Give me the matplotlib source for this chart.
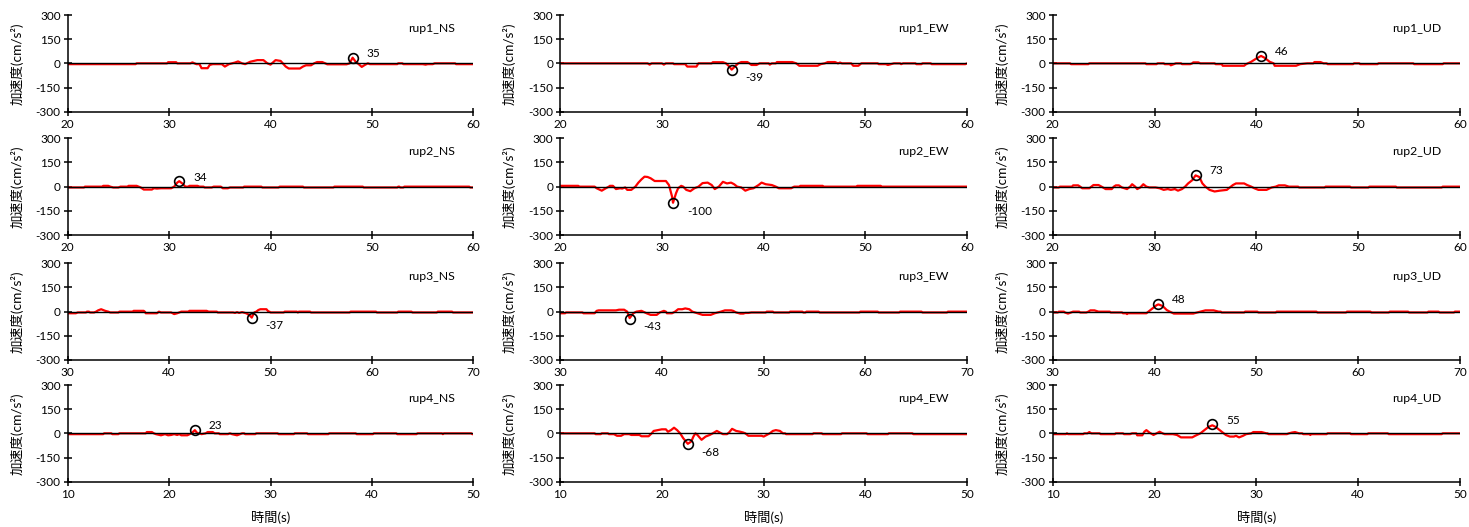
import matplotlib
matplotlib.use('Agg')
import matplotlib.pyplot as plt

plt.rcParams['font.family'] = ['Lato', 'Noto Sans CJK JP', 'DejaVu Sans']
plt.rcParams['axes.unicode_minus'] = False

# ---------------- data (time s, acceleration cm/s^2) ----------------
rup1_NS = [(20,-5),(26.7,-5),(26.8,0),(29.8,0),(29.9,7),(30.7,7),(30.8,0),(32.1,0),(32.3,6),(32.5,0),(32.7,-5),(33.0,-5),
           (33.2,-30),(33.8,-30),(34.0,-10),(34.3,-5),(35.2,-5),(35.5,-20),(35.9,-5),(36.5,5),(36.8,12),(37.2,0),(37.5,-5),
           (38.0,10),(38.7,20),(39.3,20),(39.7,0),(40.0,-8),(40.5,20),(41.0,15),(41.5,-20),(41.8,-32),(42.9,-32),(43.2,-20),
           (43.5,-12),(44.0,-12),(44.3,0),(44.6,8),(45.1,8),(45.4,0),(45.6,-6),(47.5,-6),(47.8,0),(48.1,35),(48.4,10),
           (48.7,-5),(49.0,-22),(49.3,-10),(49.6,0),(49.8,-5),(52.5,-5),(52.6,0),(53.0,0),(53.1,-5),(55.0,-5),(55.3,-8),
           (55.5,-5),(56.0,-5),(56.2,0),(58.2,0),(58.3,-5),(60,-5)]
rup1_EW = [(20,0),(28.6,0),(28.8,-8),(29.0,0),(30.0,0),(30.2,-8),(30.4,0),(31.1,0),(31.2,-5),(32.3,-5),(32.5,-20),(33.4,-20),
           (33.6,0),(34.9,0),(35.0,7),(36.0,7),(36.3,0),(36.6,-18),(36.86,-39),(37.2,-18),(37.5,0),(37.8,8),(38.4,8),(38.6,0),
           (38.8,-10),(39.3,-10),(39.6,0),(40.5,0),(40.6,-8),(40.8,0),(41.2,0),(41.3,8),(42.8,8),(43.2,0),(43.5,-15),(45.3,-15),
           (45.6,-5),(46.0,0),(46.3,8),(47.0,8),(47.3,0),(47.5,5),(47.7,0),(48.6,0),(48.8,-15),(49.3,-15),(49.6,0),(51.2,0),
           (51.3,-5),(52.0,-5),(52.2,-10),(52.5,-5),(52.8,0),(53.4,0),(53.5,-5),(53.7,0),(54.9,0),(55.0,-5),(55.5,-5),(55.6,0),
           (56.4,0),(56.5,-5),(59.8,-5),(60,0)]
rup1_UD = [(20,0),(21.7,0),(21.8,-5),(23.5,-5),(23.6,0),(29.1,0),(29.2,-5),(30.2,-5),(30.3,0),(30.9,0),(31.0,-5),(31.5,-5),
           (31.6,-12),(31.9,-5),(32.1,0),(32.6,0),(32.7,-5),(33.5,-5),(33.7,0),(33.8,6),(34.3,6),(34.5,0),(35.9,0),(36.0,-5),
           (36.6,-5),(36.7,-15),(38.8,-15),(39.0,-5),(39.5,10),(40.0,30),(40.46,46),(40.8,35),(41.3,10),(41.7,0),(41.8,-15),
           (43.9,-15),(44.3,-5),(45.0,0),(45.6,0),(45.7,8),(46.3,8),(46.6,0),(46.9,0),(47.0,-5),(49.5,-5),(49.6,0),(50.1,0),
           (50.2,-5),(51.9,-5),(52.0,0),(55.4,0),(55.5,-5),(58.3,-5),(58.4,0),(60,0)]
rup2_NS = [(20,-5),(21.6,-5),(21.7,0),(23.4,0),(23.5,5),(24.0,5),(24.2,0),(24.5,-5),(25.0,-5),(25.2,0),(25.9,0),(26.0,5),
           (26.8,5),(27.0,0),(27.2,-5),(27.5,-18),(28.3,-18),(28.5,-10),(28.8,-12),(29.2,-10),(30.2,-10),(30.5,0),(30.8,25),
           (31.0,34),(31.3,20),(31.6,0),(31.9,0),(32.0,5),(32.8,5),(33.0,0),(33.4,0),(33.5,-5),(34.2,-5),(34.4,0),(35.1,0),
           (35.3,-10),(35.8,-10),(36.0,-5),(37.3,-5),(37.4,0),(39.1,0),(39.2,-5),(40.8,-5),(40.9,0),(43.2,0),(43.3,-5),
           (46.2,-5),(46.3,0),(49.1,0),(49.2,-5),(52.5,-5),(52.6,0),(52.7,0),(52.8,-5),(53.1,-5),(53.2,0),(59.6,0),(59.7,-5),
           (60,-5)]
rup2_EW = [(20,5),(21.8,5),(21.9,0),(23.4,0),(23.6,-10),(24.1,-25),(24.5,-10),(24.8,0),(24.9,5),(25.2,5),(25.5,-15),
           (25.9,-10),(26.1,-12),(26.4,-5),(26.6,-20),(27.0,-20),(27.4,0),(27.7,25),(28.0,45),(28.3,62),(28.6,60),(28.9,52),
           (29.3,35),(29.8,35),(30.4,35),(30.7,10),(31.0,-60),(31.1,-100),(31.4,-40),(31.6,-10),(31.9,5),(32.1,0),(32.4,-20),
           (32.8,-28),(33.2,-10),(33.6,0),(34.0,22),(34.5,25),(34.9,10),(35.2,-15),(35.6,0),(36.0,30),(36.4,20),(36.8,25),
           (37.1,15),(37.4,0),(37.8,-5),(38.2,-25),(38.6,-15),(39.0,-10),(39.5,10),(39.8,25),(40.2,15),(40.8,10),(41.2,0),
           (41.5,-10),(42.7,-10),(43.0,0),(43.5,0),(43.6,5),(45.8,5),(45.9,0),(49.1,0),(49.2,5),(51.5,5),(51.6,0),(60,0)]
rup2_UD = [(20,-5),(20.6,-5),(20.7,0),(21.9,0),(22.0,8),(22.5,8),(22.7,0),(22.9,-10),(23.6,-10),(23.8,0),(24.0,10),
           (24.5,10),(24.8,0),(25.2,-15),(25.8,-15),(26.0,0),(26.2,8),(26.5,8),(26.8,-5),(27.3,-15),(27.6,0),(27.8,15),
           (28.1,0),(28.3,-15),(28.6,-5),(28.9,15),(29.2,0),(29.5,-5),(30.1,-5),(30.5,-10),(30.9,-20),(31.3,-15),(31.6,-20),
           (32.0,-15),(32.3,-25),(32.7,-15),(33.0,0),(33.3,20),(33.7,40),(34.03,70),(34.4,60),(34.7,20),(35.0,0),(35.4,-20),
           (35.9,-30),(36.4,-25),(37.1,-20),(37.4,-5),(37.7,10),(38.0,20),(38.8,20),(39.1,10),(39.5,0),(39.8,-10),(40.2,-20),
           (41.0,-20),(41.5,-5),(41.9,0),(42.2,8),(42.8,8),(43.2,0),(44.1,0),(44.2,-5),(46.7,-5),(46.8,0),(49.2,0),(49.3,-5),
           (51.0,-5),(51.1,0),(53.7,0),(53.8,-5),(58.2,-5),(58.3,0),(60,0)]
rup3_NS = [(30,-10),(30.8,-10),(31.0,-5),(31.8,-5),(31.9,0),(32.1,0),(32.2,-5),(32.6,-5),(32.8,0),(33.0,8),(33.3,15),
           (33.7,5),(34.0,0),(34.2,-5),(35.0,-5),(35.1,0),(36.4,0),(36.5,5),(37.5,5),(37.6,0),(37.7,-10),(38.8,-10),(39.0,0),
           (39.2,-5),(40.2,-5),(40.5,-15),(40.8,-10),(41.0,-5),(41.2,0),(41.9,0),(42.0,5),(43.7,5),(43.9,0),(44.7,0),(44.8,-5),
           (46.3,-5),(46.5,-8),(46.7,-3),(46.9,-8),(47.2,-3),(47.6,-10),(47.9,-20),(48.15,-37),(48.4,-5),(48.6,0),(48.8,10),
           (49.0,15),(49.6,15),(49.8,0),(49.9,0),(50.0,-5),(51.3,-5),(51.4,0),(52.6,0),(52.7,-5),(52.8,0),(53.9,0),(54.0,-5),
           (57.8,-5),(57.9,0),(60.4,0),(60.5,-5),(62.5,-5),(62.6,0),(63.9,0),(64.0,-5),(66.4,-5),(66.5,0),(67.9,0),(68.0,-5),
           (70,-5)]
rup3_EW = [(30,-10),(30.5,-10),(30.6,-5),(32.2,-5),(32.3,-10),(33.4,-10),(33.6,5),(33.8,8),(35.5,8),(35.8,12),(36.3,12),
           (36.6,0),(36.84,-40),(37.2,-10),(37.5,0),(38.0,5),(38.5,-10),(38.9,-20),(39.5,-20),(39.8,-5),(40.2,5),(40.4,0),
           (40.5,-10),(41.0,-10),(41.3,0),(41.6,15),(42.0,15),(42.3,20),(42.7,15),(43.0,0),(43.5,-10),(44.0,-20),(44.8,-20),
           (45.2,-10),(45.5,-5),(45.8,0),(46.2,8),(46.8,8),(47.0,5),(47.3,-5),(47.7,-12),(48.0,-12),(48.2,-8),(48.5,-8),
           (48.8,-5),(50.2,-5),(50.3,0),(50.9,0),(51.0,-5),(52.5,-5),(52.6,0),(53.8,0),(53.9,-5),(54.1,-5),(54.2,0),(55.4,0),
           (55.5,-5),(59.4,-5),(59.5,0),(61.2,0),(61.3,-5),(63.3,-5),(63.4,0),(65.5,0),(65.6,-5),(68.0,-5),(68.1,0),(70,0)]
rup3_UD = [(30,-5),(30.5,-5),(30.6,0),(31.1,0),(31.2,-5),(31.5,-12),(31.8,-5),(32.0,0),(32.6,0),(32.7,-5),(33.3,-5),
           (33.5,0),(33.7,8),(34.1,8),(34.5,0),(35.6,0),(35.7,-5),(36.8,-5),(36.9,-10),(37.2,-10),(37.3,-15),(37.4,-10),
           (39.2,-10),(39.4,0),(39.8,20),(40.2,40),(40.38,45),(40.8,35),(41.2,10),(41.5,0),(41.9,-12),(43.8,-12),(44.2,-5),
           (44.5,0),(45.0,8),(45.8,8),(46.3,0),(46.5,0),(46.6,-5),(48.8,-5),(48.9,0),(50.1,0),(50.2,-5),(51.9,-5),(52.0,0),
           (55.9,0),(56.0,-5),(58.8,-5),(58.9,0),(61.2,0),(61.3,-5),(63.0,-5),(63.1,0),(64.9,0),(65.0,-5),(66.8,-5),(66.9,0),
           (67.9,0),(68.0,-5),(69.4,-5),(69.5,0),(70,0)]
rup4_NS = [(10,-5),(13.5,-5),(13.6,0),(14.3,0),(14.4,-5),(15.0,-5),(15.1,0),(17.7,0),(17.8,8),(18.3,8),(18.5,0),(18.7,-5),
           (19.2,-12),(19.6,-5),(19.9,-12),(20.2,-10),(20.5,-5),(20.8,-10),(21.0,-5),(21.2,-12),(21.8,-12),(22.2,0),
           (22.54,20),(22.8,0),(23.0,0),(23.2,-5),(23.6,0),(23.8,8),(24.3,8),(24.5,0),(24.9,0),(25.0,-5),(25.8,-5),(26.0,0),
           (26.2,-5),(26.7,-12),(27.0,-5),(27.2,0),(27.4,0),(27.5,-5),(28.5,-5),(28.6,0),(30.7,0),(30.8,-5),(32.3,-5),
           (32.4,0),(33.6,0),(33.7,-5),(35.7,-5),(35.8,0),(38.4,0),(38.5,-5),(40.1,-5),(40.2,0),(42.4,0),(42.5,-5),(44.4,-5),
           (44.5,0),(46.9,0),(47.0,-5),(47.1,0),(49.8,0),(49.9,-5),(50,-5)]
rup4_EW = [(10,0),(13.4,0),(13.5,-5),(14.0,-5),(14.1,0),(14.7,0),(14.8,-5),(15.3,-5),(15.6,-15),(16.0,-15),(16.3,-5),
           (16.8,-5),(17.0,-10),(17.8,-10),(18.0,-18),(18.7,-18),(19.0,0),(19.2,15),(19.6,20),(20.0,25),(20.4,25),(20.6,10),
           (20.9,20),(21.2,35),(21.5,20),(21.8,0),(22.1,-30),(22.55,-65),(22.9,-50),(23.1,-20),(23.3,0),(23.5,-10),(23.9,-40),
           (24.3,-20),(24.7,-10),(25.0,0),(25.4,15),(25.7,5),(26.0,-5),(26.4,-5),(26.6,5),(26.9,28),(27.3,15),(27.7,10),
           (28.0,5),(28.2,0),(28.5,-15),(29.8,-15),(30.0,-20),(30.3,-10),(30.6,0),(30.9,15),(31.2,20),(31.6,15),(31.9,0),
           (32.1,0),(32.2,-5),(34.8,-5),(34.9,0),(35.7,0),(35.8,-5),(37.6,-5),(37.7,0),(40.1,0),(40.2,-5),(42.2,-5),(42.3,0),
           (44.6,0),(44.7,-5),(50,-5)]
rup4_UD = [(10,-5),(11.3,-5),(11.4,0),(11.5,-5),(13.0,-5),(13.1,0),(13.4,0),(13.6,8),(13.8,0),(14.6,0),(14.7,-5),(16.1,-5),
           (16.2,0),(16.9,0),(17.0,-5),(17.6,-5),(17.8,0),(18.2,0),(18.3,-12),(18.8,-12),(19.0,10),(19.2,20),(19.5,5),
           (19.9,-10),(20.2,0),(20.5,10),(20.8,0),(21.0,-5),(21.8,-5),(22.2,-10),(22.6,-25),(23.7,-25),(24.0,-15),(24.5,0),
           (24.9,20),(25.3,40),(25.68,50),(26.0,40),(26.4,20),(26.8,0),(27.0,-10),(27.4,-20),(27.8,-20),(28.0,-15),(28.3,-25),
           (28.7,-15),(29.0,-5),(29.5,0),(29.7,8),(30.5,8),(31.0,0),(31.1,0),(31.2,-5),(33.0,-5),(33.2,0),(33.5,5),(33.8,8),
           (34.2,0),(34.5,0),(34.6,-5),(35.2,-5),(35.3,-10),(35.4,-5),(36.9,-5),(37.0,0),(39.2,0),(39.3,-5),(40.9,-5),
           (41.0,0),(42.9,0),(43.0,-5),(48.2,-5),(48.3,0),(50,0)]

panel_names = ['rup1_NS', 'rup1_EW', 'rup1_UD',
               'rup2_NS', 'rup2_EW', 'rup2_UD',
               'rup3_NS', 'rup3_EW', 'rup3_UD',
               'rup4_NS', 'rup4_EW', 'rup4_UD']
panel_series = [rup1_NS, rup1_EW, rup1_UD, rup2_NS, rup2_EW, rup2_UD,
                rup3_NS, rup3_EW, rup3_UD, rup4_NS, rup4_EW, rup4_UD]
peak_t = [48.1, 36.86, 40.46, 31.0, 31.1, 34.03, 48.15, 36.84, 40.38, 22.54, 22.55, 25.68]
peak_v = [35, -39, 46, 34, -100, 73, -37, -43, 48, 23, -68, 55]
row_xlim = [(20, 60), (20, 60), (30, 70), (10, 50)]
y_ticks = [-300, -150, 0, 150, 300]
y_label = '加速度(cm/s²)'
x_label = '時間(s)'

# ---------------- layout ----------------
W, H = 1469, 527
fig = plt.figure(figsize=(W / 100, H / 100), dpi=100)
col_left = [67.7, 560.0, 1052.7]
col_width = [405.6, 407.3, 407.3]
row_top = [15.0, 138.3, 263.3, 385.0]
row_h = 96.7

FS = 8.5
for i, (name, data) in enumerate(zip(panel_names, panel_series)):
    r, c = divmod(i, 3)
    l, w = col_left[c], col_width[c]
    t = row_top[r]
    ax = fig.add_axes([l / W, 1 - (t + row_h) / H, w / W, row_h / H])
    ts = [p[0] for p in data]
    vs = [p[1] for p in data]
    ax.plot(ts, vs, color='#FF0000', lw=1.6, zorder=2)
    ax.axhline(0, color='black', lw=1.0, zorder=3)
    ax.plot([peak_t[i]], [peak_v[i]], marker='o', ms=7, mfc='none', mec='black', mew=1.2, zorder=4)
    dy = 3 if peak_v[i] > 0 else -6
    ax.annotate(str(peak_v[i]), (peak_t[i], peak_v[i]), xytext=(10, dy), textcoords='offset points',
                ha='left', va='center', fontsize=FS, zorder=5)
    ax.text(0.955, 0.86, name, transform=ax.transAxes, ha='right', va='center', fontsize=FS + 0.3)
    x0, x1 = row_xlim[r]
    ax.set_xlim(x0, x1)
    ax.set_ylim(-300, 300)
    ax.set_xticks(range(x0, x1 + 1, 10))
    ax.set_yticks(y_ticks)
    for s in ['top', 'right']:
        ax.spines[s].set_visible(False)
    for s in ['left', 'bottom']:
        ax.spines[s].set_linewidth(1.1)
    ax.tick_params(direction='inout', length=6, width=1.1, labelsize=FS, pad=2)
    ax.set_ylabel(y_label, fontsize=9.8)
    ax.yaxis.set_label_coords(-44 / w, 0.5)
    if r == 3:
        ax.set_xlabel(x_label, fontsize=9.5)
        ax.xaxis.set_label_coords(0.5, -36 / row_h)
        ax.xaxis.label.set_va('center')
    ax.patch.set_alpha(0)

fig.savefig('out.png', dpi=100)
